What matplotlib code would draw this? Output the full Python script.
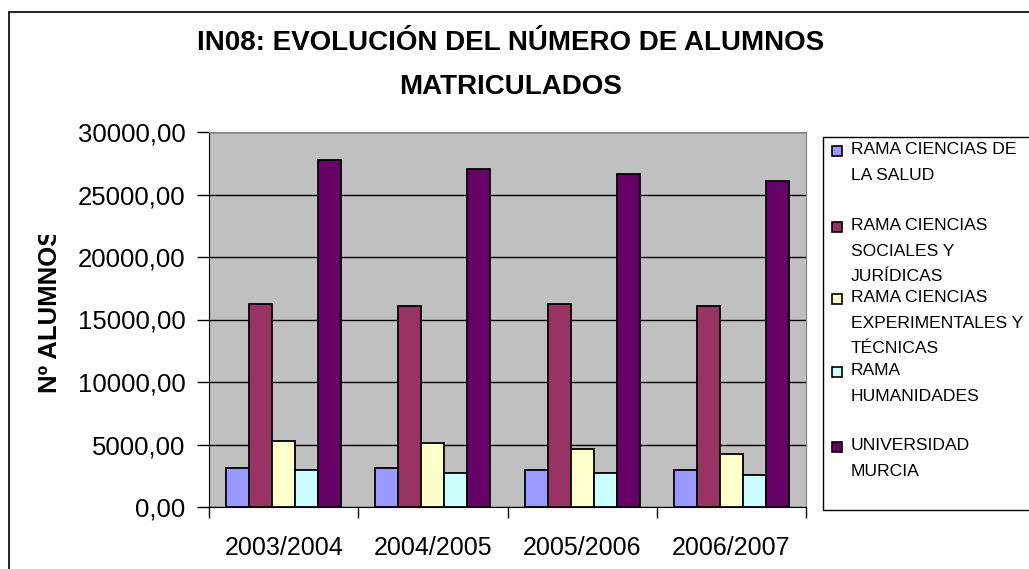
import matplotlib
matplotlib.use('Agg')
import matplotlib.pyplot as plt
import numpy as np
from matplotlib.patches import Rectangle
from matplotlib.ticker import FuncFormatter, FixedLocator
from matplotlib.transforms import Bbox

plt.rcParams['font.family'] = ['Liberation Sans', 'DejaVu Sans']

# datos
cursos = ['2003/2004', '2004/2005', '2005/2006', '2006/2007']
series = ['RAMA CIENCIAS DE\nLA SALUD',
          'RAMA CIENCIAS\nSOCIALES Y\nJURÍDICAS',
          'RAMA CIENCIAS\nEXPERIMENTALES Y\nTÉCNICAS',
          'RAMA\nHUMANIDADES',
          'UNIVERSIDAD\nMURCIA']
salud = [3130, 3130, 2995, 2995]
sociales = [16250, 16090, 16250, 16090]
experimentales = [5265, 5130, 4680, 4255]
humanidades = [2995, 2730, 2730, 2540]
universidad = [27770, 27070, 26650, 26070]
colores = ['#9999FF', '#993366', '#FFFFCC', '#CCFFFF', '#660066']

valores = [salud, sociales, experimentales, humanidades, universidad]

fig = plt.figure(figsize=(10.29, 5.69), dpi=100)
W, H = 1029, 569

# borde del grafico
fig.patches.append(Rectangle((9 / W, -0.1), 1.2, 1 - 12 / H + 0.1, transform=fig.transFigure,
                             fill=False, edgecolor='black', lw=1.2))

ax = fig.add_axes([209 / W, 1 - 507 / H, (806 - 209) / W, (507 - 132) / H])
ax.set_facecolor('#C0C0C0')

x = np.arange(len(cursos))
w = 1 / 6.5
for i, (vals, col) in enumerate(zip(valores, colores)):
    ax.bar(x - 2 * w + i * w, vals, w, color=col, edgecolor='black', lw=1.3, zorder=3)

ax.set_xlim(-0.5, 3.5)
ax.set_ylim(0, 30000)
ax.set_yticks(np.arange(0, 30001, 5000))
ax.yaxis.set_major_formatter(FuncFormatter(lambda v, p: f'{v:.2f}'.replace('.', ',')))
ax.grid(axis='y', color='black', lw=1, zorder=1)
ax.xaxis.set_major_locator(FixedLocator(np.arange(-0.5, 3.6, 1)))
ax.xaxis.set_major_formatter(FuncFormatter(lambda v, p: ''))
ax.xaxis.set_minor_locator(FixedLocator(x))
ax.set_xticklabels(cursos, minor=True)
ax.tick_params(axis='x', which='minor', length=0, labelsize=18, pad=21)
ax.tick_params(axis='x', which='major', length=8, width=1, direction='out')
ax.tick_params(axis='y', length=9, width=1, direction='out', labelsize=18.5, pad=8)
for s in ['top', 'right']:
    ax.spines[s].set_color('#808080')
for s in ['left', 'bottom']:
    ax.spines[s].set_color('black')

# etiqueta eje y (recortada como en el original)
yl = fig.text(50 / W, 1 - 311 / H, 'Nº ALUMNOS', rotation=90, ha='center', va='center',
              fontsize=18.5, fontweight='bold')
yl.set_clip_box(Bbox([[0, 0], [200, H - 235]]))
yl.set_clip_on(True)

# titulo
fig.text(511 / W, 1 - 65 / H, 'IN08: EVOLUCIÓN DEL NÚMERO DE ALUMNOS\nMATRICULADOS',
         ha='center', va='center', fontsize=20, fontweight='bold', linespacing=1.85)

# leyenda
fig.patches.append(Rectangle((823 / W, 1 - 510 / H), 0.3, (510 - 137) / H, transform=fig.transFigure,
                             fill=True, facecolor='white', edgecolor='black', lw=1))
y_ent = [143, 219, 291, 364, 439]
for lab, col, yy in zip(series, colores, y_ent):
    fig.patches.append(Rectangle((832 / W, 1 - (yy + 13) / H), 10 / W, 10 / H, transform=fig.transFigure,
                                 facecolor=col, edgecolor='black', lw=1.2))
    fig.text(851 / W, 1 - (yy - 1) / H, lab, ha='left', va='top', fontsize=12.6,
             linespacing=1.88)

fig.savefig('out.png', dpi=100)
